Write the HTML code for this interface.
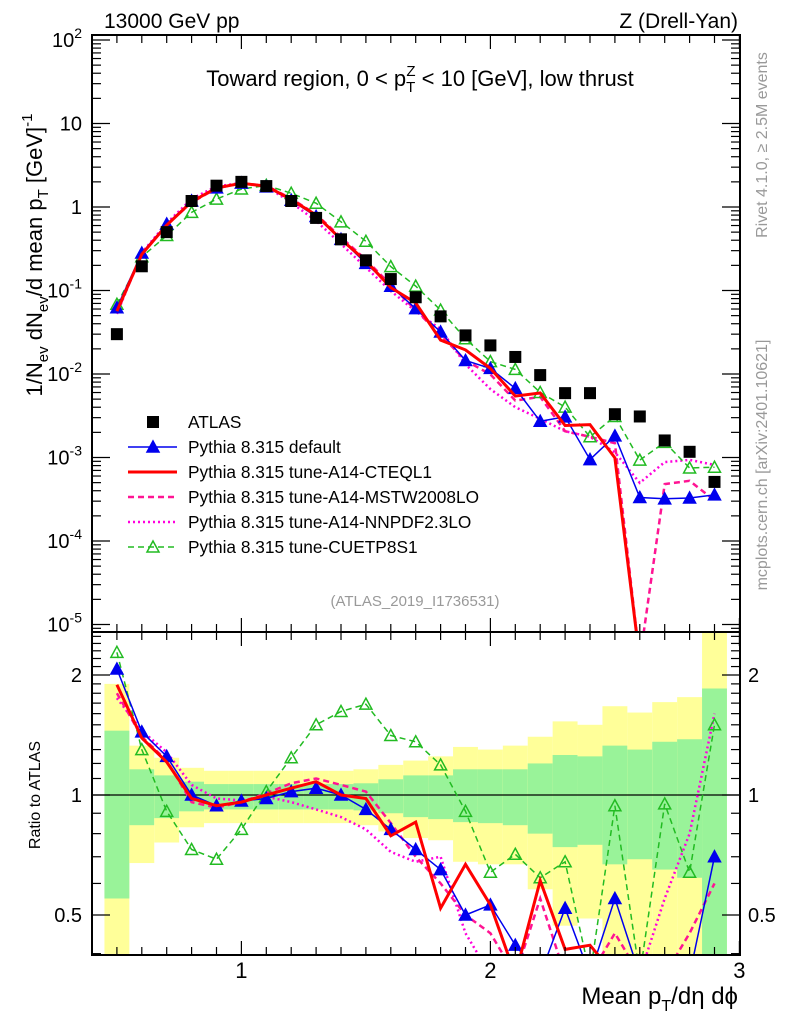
<!DOCTYPE html>
<html><head><meta charset="utf-8"><style>
html,body{margin:0;padding:0;background:#fff;width:786px;height:1024px;overflow:hidden;}
svg{display:block;font-family:"Liberation Sans",Arial,sans-serif;}
</style></head><body>
<svg id="chart" width="786" height="1024" viewBox="0 0 786 1024" xmlns="http://www.w3.org/2000/svg">
<defs>
<clipPath id="cm"><rect x="92" y="35" width="648" height="597"/></clipPath>
<clipPath id="cr"><rect x="92" y="632" width="648" height="323"/></clipPath>
</defs>
<g id="bands" clip-path="url(#cr)"></g>
<g id="ratio" clip-path="url(#cr)"></g>
<g id="main" clip-path="url(#cm)"></g>
<g id="axes"></g>
<text x="104" y="28" font-size="21">13000 GeV pp</text>
<text x="738" y="28" font-size="21" text-anchor="end">Z (Drell-Yan)</text>
<text x="420" y="86" font-size="22" text-anchor="middle">Toward region, 0 &lt; p<tspan font-size="15" dy="6">T</tspan><tspan font-size="15" dx="-9" dy="-16">Z</tspan><tspan dy="10"> &lt; 10 [GeV], low thrust</tspan></text>
<text transform="translate(42,255) rotate(-90)" font-size="22" text-anchor="middle">1/N<tspan font-size="15" dy="6">ev</tspan><tspan dy="-6"> dN</tspan><tspan font-size="15" dy="6">ev</tspan><tspan dy="-6">/d mean p</tspan><tspan font-size="15" dy="6">T</tspan><tspan dy="-6">  [GeV]</tspan><tspan font-size="15" dy="-10">-1</tspan></text>
<text transform="translate(40,795) rotate(-90)" font-size="16" text-anchor="middle">Ratio to ATLAS</text>
<text x="738" y="1004" font-size="24" text-anchor="end">Mean p<tspan font-size="16" dy="7">T</tspan><tspan dy="-7">/dη dϕ</tspan></text>
<text transform="translate(767,145) rotate(-90)" font-size="16" fill="#999" text-anchor="middle">Rivet 4.1.0, ≥ 2.5M events</text>
<text transform="translate(767,465) rotate(-90)" font-size="16" fill="#999" text-anchor="middle">mcplots.cern.ch [arXiv:2401.10621]</text>
<text x="415" y="606" font-size="15" fill="#999" text-anchor="middle">(ATLAS_2019_I1736531)</text>
<g id="legend"></g>
</svg>
<script>
const xs=[0.5,0.6,0.7,0.8,0.9,1.0,1.1,1.2,1.3,1.4,1.5,1.6,1.7,1.8,1.9,2.0,2.1,2.2,2.3,2.4,2.5,2.6,2.7,2.8,2.9];
const atlas=[0.030,0.195,0.5,1.18,1.8,2.0,1.78,1.18,0.74,0.41,0.23,0.137,0.083,0.049,0.029,0.022,0.016,0.0097,0.0059,0.0059,0.0033,0.0031,0.0016,0.00117,0.00051];
const rDefault=[2.07,1.44,1.25,1.0,0.94,0.966,0.98,1.02,1.04,1.0,0.92,0.82,0.73,0.65,0.5,0.53,0.42,0.28,0.52,0.16,0.55,0.107,0.2,0.28,0.70];
const rCTEQ=[1.89,1.39,1.21,0.98,0.94,0.96,1.0,1.04,1.08,1.0,0.98,0.79,0.855,0.52,0.67,0.53,0.34,0.61,0.41,0.42,0.3,0.001,0.001,0.001,0.001];
const rMSTW=[1.8,1.4,1.22,0.96,0.93,0.96,1.01,1.07,1.1,1.06,1.02,0.85,0.7,0.6,0.5,0.45,0.3,0.55,0.35,0.3,0.45,0.001,0.3,0.45,0.6];
const rNNPDF=[1.75,1.45,1.28,1.06,0.98,0.97,0.99,0.96,0.92,0.88,0.82,0.72,0.68,0.7,0.45,0.3,0.25,0.3,0.35,0.3,0.35,0.16,0.55,0.8,1.6];
const rCUETP=[2.28,1.30,0.91,0.73,0.69,0.82,1.02,1.24,1.5,1.62,1.69,1.41,1.36,1.19,0.91,0.64,0.71,0.62,0.68,0.3,0.94,0.3,0.95,0.64,1.5];
const yelHi=[1.9,1.33,1.24,1.17,1.15,1.15,1.15,1.15,1.15,1.15,1.16,1.19,1.22,1.25,1.32,1.30,1.33,1.4,1.53,1.5,1.67,1.61,1.71,1.76,3.0];
const greHi=[1.45,1.16,1.12,1.08,1.065,1.065,1.065,1.065,1.065,1.065,1.07,1.095,1.12,1.12,1.16,1.16,1.16,1.2,1.26,1.25,1.33,1.30,1.36,1.38,1.85];
const greLo=[0.55,0.84,0.875,0.91,0.92,0.92,0.92,0.92,0.92,0.92,0.915,0.9,0.88,0.87,0.855,0.85,0.84,0.8,0.74,0.75,0.67,0.69,0.65,0.62,0.2];
const yelLo=[0.2,0.675,0.76,0.83,0.85,0.85,0.85,0.85,0.85,0.85,0.84,0.81,0.78,0.77,0.68,0.67,0.67,0.58,0.47,0.49,0.2,0.2,0.2,0.2,0.2];
const xTicks=[1,2,3];
const mainTicks=[2,1,0,-1,-2,-3,-4,-5];
const ratioTicks=[2,1,0.5];

const NS="http://www.w3.org/2000/svg";
const RB=955;
const X=v=>92+(v-0.4)*249;
const YM=v=>207-83.5*Math.log10(v);
const YR=r=>795-120*Math.log2(r);
function mk(tag,attrs,parent){const e=document.createElementNS(NS,tag);for(const k in attrs)e.setAttribute(k,attrs[k]);parent.appendChild(e);return e;}
const gB=document.getElementById('bands'),gR=document.getElementById('ratio'),gM=document.getElementById('main'),gA=document.getElementById('axes'),gL=document.getElementById('legend');
const clampR=y=>Math.max(628,Math.min(y,962));

xs.forEach((x,i)=>{
  const x0=X(x-0.05),w=X(x+0.05)-x0;
  const yh=clampR(YR(yelHi[i])),yl=clampR(YR(yelLo[i])),gh=clampR(YR(greHi[i])),gl=clampR(YR(greLo[i]));
  let r=mk('rect',{x:x0,y:yh,width:w,height:yl-yh,fill:'#ffff99'},gB);
  
  
  r=mk('rect',{x:x0,y:gh,width:w,height:gl-gh,fill:'#99f399'},gB);
  
  
});
let l1=mk('line',{x1:92,x2:740,y1:YR(1),y2:YR(1),stroke:'#000','stroke-width':1.2},gR);



const series=[
 {r:rNNPDF,c:'#ff00dd',w:2.5,d:'2,3',m:null,n:'nnpdf'},
 {r:rMSTW,c:'#ff1493',w:2.5,d:'6,4',m:null,n:'mstw'},
 {r:rCUETP,c:'#22bb22',w:1.5,d:'6,4',m:'open',n:'cuetp8s1'},
 {r:rDefault,c:'#0000ee',w:1.5,d:null,m:'fill',n:'default'},
 {r:rCTEQ,c:'#ff0000',w:3,d:null,m:null,n:'cteql1'}
];
function tri(g,x,y,c,type){
  return mk('path',{d:`M${x},${y-6}L${x+6},${y+5}L${x-6},${y+5}Z`,fill:type==='fill'?c:'none',stroke:c,'stroke-width':1.5},g);
}
series.forEach(s=>{
  const mv=s.r.map((r,i)=>r*atlas[i]);
  const pm=xs.map((x,i)=>`${i?'L':'M'}${X(x).toFixed(1)},${Math.min(YM(mv[i]),660).toFixed(1)}`).join('');
  const pr=xs.map((x,i)=>`${i?'L':'M'}${X(x).toFixed(1)},${Math.min(YR(s.r[i]),975).toFixed(1)}`).join('');
  [[gM,pm,'main'],[gR,pr,'ratio']].forEach(([g,d,k])=>{
    const a={d:d,fill:'none',stroke:s.c,'stroke-width':s.w};
    if(s.d)a['stroke-dasharray']=s.d;
    const p=mk('path',a,g);
    
    
  });
  if(s.m){xs.forEach((x,i)=>{
    if(YM(mv[i])<640){
    let t=tri(gM,X(x),YM(mv[i]),s.c,s.m);
    
    }
    if(YR(s.r[i])<RB+6){
    let t=tri(gR,X(x),YR(s.r[i]),s.c,s.m);
    
    }
  });}
});
xs.forEach((x,i)=>{
  const r=mk('rect',{x:X(x)-6,y:YM(atlas[i])-6,width:12,height:12,fill:'#000'},gM);
  
  
});

[[35,632],[632,RB]].forEach(([t,b])=>{mk('rect',{x:92,y:t,width:648,height:b-t,fill:'none',stroke:'#000','stroke-width':2},gA);});
for(let k=5;k<=30;k++){const v=k/10,x=X(v),maj=(k%10===0);const L=maj?14:8;
  [[35,1],[632,-1],[632,1],[RB,-1]].forEach(([y,s])=>mk('line',{x1:x,x2:x,y1:y,y2:y+s*L,stroke:'#000','stroke-width':1.2},gA));}
xTicks.forEach(v=>{const t=mk('text',{x:X(v),y:978,'font-size':22,'text-anchor':'middle'},gA);t.textContent=v;
  
  });
for(let e=-6;e<=2;e++){for(let m=1;m<10;m++){const v=m*Math.pow(10,e);const y=YM(v);if(y<35||y>632)continue;const L=m===1?18:9;
  mk('line',{x1:92,x2:92+L,y1:y,y2:y,stroke:'#000','stroke-width':1.2},gA);mk('line',{x1:740,x2:740-L,y1:y,y2:y,stroke:'#000','stroke-width':1.2},gA);}}
mainTicks.forEach(e=>{const y=YM(Math.pow(10,e));const t=mk('text',{x:82,y:y+7,'font-size':20,'text-anchor':'end'},gA);
  
  
  if(e===1)t.textContent='10';else if(e===0)t.textContent='1';else{t.textContent='10';const s=mk('tspan',{dy:-9,'font-size':14},t);s.textContent=e;}});
for(let k=4;k<=26;k++){const v=k/10;const y=YR(v);if(y<632||y>RB)continue;const maj=(k===5||k===10||k===20);const L=maj?18:9;
  mk('line',{x1:92,x2:92+L,y1:y,y2:y,stroke:'#000','stroke-width':1.2},gA);mk('line',{x1:740,x2:740-L,y1:y,y2:y,stroke:'#000','stroke-width':1.2},gA);}
ratioTicks.forEach(v=>{const y=YR(v)+7;
  let t=mk('text',{x:82,y:y,'font-size':20,'text-anchor':'end'},gA);t.textContent=v;
  
  
  t=mk('text',{x:748,y:y,'font-size':20},gA);t.textContent=v;
  
  });

const leg=[['ATLAS',null],['Pythia 8.315 default',3],['Pythia 8.315 tune-A14-CTEQL1',4],['Pythia 8.315 tune-A14-MSTW2008LO',1],['Pythia 8.315 tune-A14-NNPDF2.3LO',0],['Pythia 8.315 tune-CUETP8S1',2]];
leg.forEach(([lab,si],i)=>{const y=422+25*i;const g=mk('g',{},gL);
  
  
  if(si===null){mk('rect',{x:147,y:y-6,width:12,height:12,fill:'#000'},g);}
  else{const s=series[si];const a={x1:128,x2:177,y1:y,y2:y,stroke:s.c,'stroke-width':s.w};if(s.d)a['stroke-dasharray']=s.d;mk('line',a,g);if(s.m)tri(g,153,y,s.c,s.m);}
  const t=mk('text',{x:188,y:y+6,'font-size':17.3},g);t.textContent=lab;});
</script>
</body></html>
